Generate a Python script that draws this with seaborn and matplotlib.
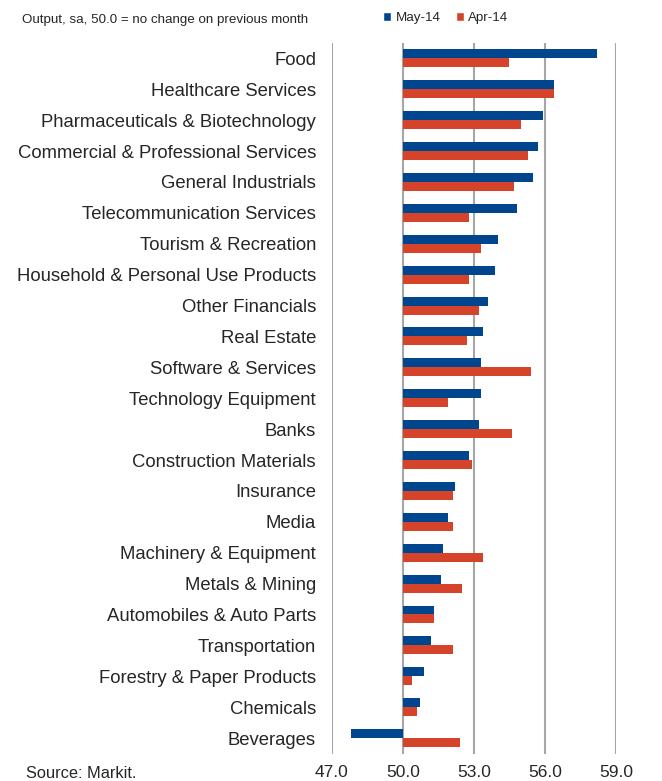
import matplotlib
matplotlib.use("Agg")
import matplotlib.pyplot as plt
from matplotlib import font_manager
from matplotlib.patches import Patch
import seaborn as sns
import pandas as pd

categories = [
    "Food", "Healthcare Services", "Pharmaceuticals & Biotechnology",
    "Commercial & Professional Services", "General Industrials",
    "Telecommunication Services", "Tourism & Recreation",
    "Household & Personal Use Products", "Other Financials", "Real Estate",
    "Software & Services", "Technology Equipment", "Banks",
    "Construction Materials", "Insurance", "Media", "Machinery & Equipment",
    "Metals & Mining", "Automobiles & Auto Parts", "Transportation",
    "Forestry & Paper Products", "Chemicals", "Beverages",
]
may14 = [58.2, 56.4, 55.9, 55.7, 55.5, 54.8, 54.0, 53.9, 53.6, 53.4,
         53.3, 53.3, 53.2, 52.8, 52.2, 51.9, 51.7, 51.6, 51.3, 51.2,
         50.9, 50.7, 47.8]
apr14 = [54.5, 56.4, 55.0, 55.3, 54.7, 52.8, 53.3, 52.8, 53.2, 52.7,
         55.4, 51.9, 54.6, 52.9, 52.1, 52.1, 53.4, 52.5, 51.3, 52.1,
         50.4, 50.6, 52.4]
series_names = ["May-14", "Apr-14"]
xticks = [47.0, 50.0, 53.0, 56.0, 59.0]

df = pd.DataFrame({
    "category": categories * 2,
    "value": may14 + apr14,
    "series": [series_names[0]] * len(categories) + [series_names[1]] * len(categories),
})

sns.set_theme(style="white")
plt.rcParams["font.family"] = ["Liberation Sans", "DejaVu Sans"]

installed = {f.name for f in font_manager.fontManager.ttflist}
if "Liberation Sans Narrow" in installed:
    narrow = ["Liberation Sans Narrow", "Liberation Sans", "DejaVu Sans"]
    small_size = 11.6
else:
    narrow = ["Liberation Sans", "DejaVu Sans"]
    small_size = 9.6

colors = {"May-14": "#00468E", "Apr-14": "#D5442A"}

fig = plt.figure(figsize=(6.62, 7.81), dpi=100)
ax = fig.add_axes([0.5015, 0.0352, 0.429, 0.9098])

# bars measured from the 50 baseline
df["delta"] = df["value"] - 50.0
sns.barplot(data=df, x="delta", y="category", hue="series", hue_order=series_names,
            order=categories, palette=colors, width=0.58, orient="h",
            saturation=1, ax=ax, legend=False, linewidth=0)

ax.set_xlim(xticks[0] - 50.0, xticks[-1] - 50.0)
ax.set_xticks([t - 50.0 for t in xticks])
ax.set_xticklabels([f"{t:.1f}" for t in xticks], fontsize=12.5)
ax.set_xlabel("")
ax.set_ylabel("")
ax.tick_params(axis="y", labelsize=13.3, length=0, pad=11.5)
ax.tick_params(axis="x", length=0, pad=8)
for t in xticks:
    ax.axvline(t - 50.0, color="#A6A6A6", linewidth=1.5, zorder=0)
for s in ax.spines.values():
    s.set_visible(False)
ax.grid(False)

fig.text(0.033, 0.9745, "Output, sa, 50.0 = no change on previous month",
         fontsize=small_size, va="center", ha="left", family=narrow)
fig.text(0.04, 0.009, "Source: Markit.", fontsize=11.8, va="center", ha="left")

handles = [Patch(facecolor=colors[s], label=s) for s in series_names]
fig.legend(handles=handles, loc="center left", bbox_to_anchor=(0.561, 0.977),
           ncol=2, frameon=False, handlelength=0.6,
           handleheight=0.7, handletextpad=0.35, columnspacing=1.1,
           prop={"family": narrow, "size": small_size})

fig.savefig("out.png", dpi=100)
